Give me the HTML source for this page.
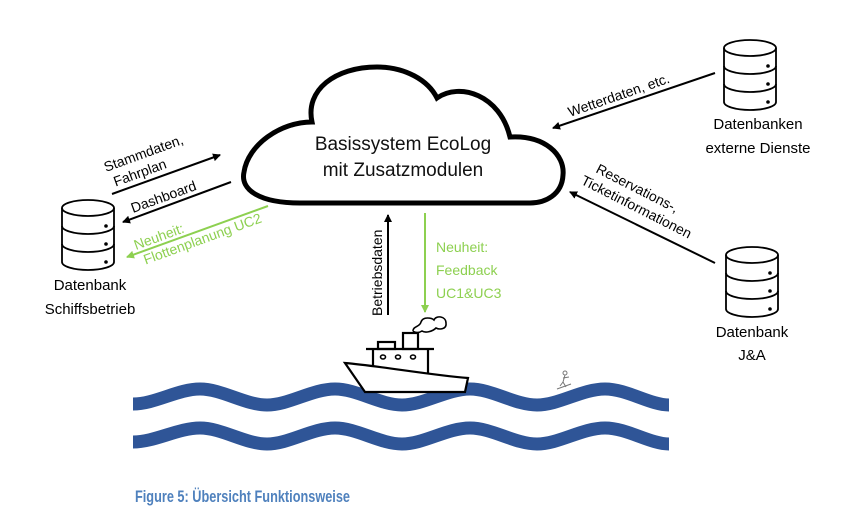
<!DOCTYPE html>
<html><head><meta charset="utf-8"><style>
body{margin:0;background:#fff}
svg{display:block}
text{font-family:"Liberation Sans","DejaVu Sans",sans-serif}
</style></head><body>
<svg width="843" height="511" viewBox="0 0 843 511" xmlns="http://www.w3.org/2000/svg">
<defs>
<marker id="ab" markerWidth="8" markerHeight="8" refX="7" refY="4" orient="auto" markerUnits="userSpaceOnUse"><path d="M0,0 L8,4 L0,8 Z" fill="#000"/></marker>
<marker id="ag" markerWidth="8" markerHeight="8" refX="7" refY="4" orient="auto" markerUnits="userSpaceOnUse"><path d="M0,0 L8,4 L0,8 Z" fill="#8dd050"/></marker>
<g id="db" fill="#fff" stroke="#000" stroke-width="1.8">
<path d="M0,8 L0,62 A26,8 0 0 0 52,62 L52,8"/>
<ellipse cx="26" cy="8" rx="26" ry="8"/>
<path d="M0,26 A26,8 0 0 0 52,26 M0,44 A26,8 0 0 0 52,44" fill="none"/>
<circle cx="44" cy="26" r="1.8" fill="#000" stroke="none"/>
<circle cx="44" cy="44" r="1.8" fill="#000" stroke="none"/>
<circle cx="44" cy="62" r="1.8" fill="#000" stroke="none"/>
</g>
</defs>

<path d="M300 203 C260 203 240 190 244 172 C248 145 280 122 312 122 C305 90 335 67 377 67 C405 67 428 80 437 98 C460 82 500 95 510 137 C545 135 565 155 563 175 C562 195 545 203 530 203 Z" fill="#fff" stroke="#000" stroke-width="5"/>
<text x="403" y="150" font-size="19" text-anchor="middle" fill="#111">Basissystem EcoLog</text>
<text x="403" y="176" font-size="19" text-anchor="middle" fill="#111">mit Zusatzmodulen</text>

<use href="#db" x="62" y="200"/>
<text x="90" y="290" font-size="15" text-anchor="middle">Datenbank</text>
<text x="90" y="314" font-size="15" text-anchor="middle">Schiffsbetrieb</text>
<use href="#db" x="724" y="40"/>
<text x="758" y="129" font-size="15" text-anchor="middle">Datenbanken</text>
<text x="758" y="153" font-size="15" text-anchor="middle">externe Dienste</text>
<use href="#db" x="726" y="247"/>
<text x="752" y="337" font-size="15" text-anchor="middle">Datenbank</text>
<text x="752" y="360" font-size="15" text-anchor="middle">J&amp;A</text>

<line x1="112" y1="194" x2="220" y2="155" stroke="#000" stroke-width="2" marker-end="url(#ab)"/>
<line x1="231" y1="182" x2="123" y2="222" stroke="#000" stroke-width="2" marker-end="url(#ab)"/>
<line x1="268" y1="206" x2="127" y2="257" stroke="#8dd050" stroke-width="2" marker-end="url(#ag)"/>
<g transform="translate(106,172) rotate(-20)"><text font-size="14">Stammdaten,</text><text y="17" font-size="14" x="4">Fahrplan</text></g>
<text transform="translate(133,213) rotate(-20)" font-size="14">Dashboard</text>
<g transform="translate(136,250) rotate(-20)" fill="#8dd050"><text font-size="14">Neuheit:</text><text x="4" y="17" font-size="14">Flottenplanung UC2</text></g>

<line x1="715" y1="73" x2="553" y2="128" stroke="#000" stroke-width="2" marker-end="url(#ab)"/>
<text transform="translate(570,117) rotate(-19)" font-size="14">Wetterdaten, etc.</text>
<line x1="715" y1="263" x2="570" y2="192" stroke="#000" stroke-width="2" marker-end="url(#ab)"/>
<g transform="translate(595,172) rotate(27)" font-size="14"><text>Reservations-,</text><text x="-8" y="17">Ticketinformationen</text></g>

<line x1="388" y1="315" x2="388" y2="215" stroke="#000" stroke-width="2" marker-end="url(#ab)"/>
<text transform="translate(382,316) rotate(-90)" font-size="14">Betriebsdaten</text>
<line x1="425" y1="213" x2="425" y2="312" stroke="#8dd050" stroke-width="2" marker-end="url(#ag)"/>
<g fill="#8dd050" font-size="14"><text x="436" y="252">Neuheit:</text><text x="436" y="275">Feedback</text><text x="436" y="298">UC1&amp;UC3</text></g>

<path d="M133 404 C155 404 178 389 200 389 C222 389 245 405 267 405 C289 405 312 389 335 389 C357 389 380 405 402 405 C424 405 447 389 470 389 C492 389 515 405 537 405 C559 405 582 389 605 389 C627 389 650 405 669 405" fill="none" stroke="#2f5597" stroke-width="13"/>
<path d="M133 442 C155 442 178 428 200 428 C222 428 245 444 267 444 C289 444 312 428 335 428 C357 428 380 444 402 444 C424 444 447 428 470 428 C492 428 515 444 537 444 C559 444 582 428 605 428 C627 428 650 444 669 444" fill="none" stroke="#2f5597" stroke-width="13"/>

<g fill="#fff" stroke="#000" stroke-width="2.2">
<path d="M413 331 C413 326 420 327 421 322 C423 316 432 318 434 320 C436 315 446 316 446 323 C447 329 440 330 436 328 C432 332 425 333 422 331 C419 333 415 333 413 331" fill="none" stroke-width="1.6"/>
<rect x="378" y="342" width="17" height="7"/>
<rect x="403" y="333" width="15" height="16"/>
<line x1="366" y1="349" x2="434" y2="349"/>
<line x1="373" y1="349" x2="373" y2="370"/>
<line x1="428" y1="349" x2="428" y2="375"/>
<path d="M345 363 C380 366 430 375 468 378 L465 392 L365 392 Z"/>
</g>
<g fill="none" stroke="#000" stroke-width="1.6">
<ellipse cx="383" cy="357" rx="2.5" ry="2"/><ellipse cx="398" cy="357" rx="2.5" ry="2"/><ellipse cx="413" cy="357" rx="2.5" ry="2"/>
</g>
<g stroke="#777" stroke-width="1" fill="none">
<circle cx="565" cy="373" r="2"/>
<path d="M565 375 L563 382 L566 387 M563 378 L569 377 M563 382 L560 386 M557 389 L571 384"/>
</g>

<text x="135" y="502" font-size="17" font-weight="bold" fill="#4f81bd" textLength="215" lengthAdjust="spacingAndGlyphs">Figure 5: Übersicht Funktionsweise</text>
</svg>
</body></html>
